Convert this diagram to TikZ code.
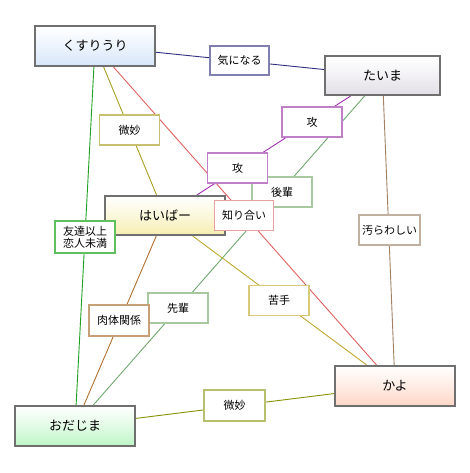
\documentclass[tikz,border=0pt]{standalone}
\usepackage{fontspec}
\newfontfamily\jp{Noto Sans CJK JP}
\usetikzlibrary{backgrounds}
\definecolor{mainborder}{HTML}{707070}
\definecolor{cblue}{HTML}{D6E6FA}
\definecolor{cgray}{HTML}{E2DEE6}
\definecolor{cyellow}{HTML}{F6EEB0}
\definecolor{cpeach}{HTML}{FFD6C6}
\definecolor{cgreen}{HTML}{BEF6C6}
\definecolor{lnavy}{HTML}{303080}\definecolor{bnavy}{HTML}{8080B0}
\definecolor{lpurple}{HTML}{A030B0}\definecolor{bpurple}{HTML}{C080C8}
\definecolor{lsage}{HTML}{70A870}\definecolor{bsage}{HTML}{A8C8A0}
\definecolor{lred}{HTML}{E06060}\definecolor{bred}{HTML}{E8A0A0}
\definecolor{lolive}{HTML}{A8A020}\definecolor{bolive}{HTML}{C8C070}
\definecolor{lolive2}{HTML}{889000}\definecolor{bolive2}{HTML}{B8C070}
\definecolor{lbrown}{HTML}{A08060}\definecolor{bbrown}{HTML}{C0B0A0}
\definecolor{lgold}{HTML}{C0A830}\definecolor{bgold}{HTML}{D8C878}
\definecolor{lrust}{HTML}{B07030}\definecolor{brust}{HTML}{C8A078}
\definecolor{lgreen}{HTML}{20A020}\definecolor{bgreen}{HTML}{60C060}
\tikzset{
  person/.style={draw=mainborder, line width=2pt, minimum width=120pt, minimum height=40pt,
    font=\jp\fontsize{13}{15}\selectfont, inner sep=0pt, top color=white, bottom color=#1,
    middle color=white!55!#1},
  tag/.style={draw=#1, line width=1.5pt, fill=white, minimum width=60pt, minimum height=30pt,
    font=\jp\fontsize{11}{13}\selectfont, inner sep=1pt, align=center},
  rel/.style={draw=#1, line width=0.9pt}
}
\begin{document}
\begin{tikzpicture}[x=1pt,y=-1pt]
\useasboundingbox (0,0) rectangle (470,473);
\node[person=cblue] (kusuri) at (95,46) {くすりうり};
\node[person=cgray, minimum width=115pt, minimum height=39pt] (taima) at (382.5,75.5) {たいま};
\node[person=cyellow, minimum height=39pt] (haiba) at (165,215.5) {はいばー};
\node[person=cpeach] (kayo) at (395,386) {かよ};
\node[person=cgreen] (oda) at (75,426) {おだじま};
\begin{pgfonlayer}{background}
\draw[rel=lnavy] (kusuri) -- (taima);
\draw[rel=lolive] (kusuri) -- (haiba);
\draw[rel=lred] (kusuri) -- (kayo);
\draw[rel=lgreen] (kusuri) -- (oda);
\draw[rel=lpurple] (taima) -- (haiba);
\draw[rel=lsage] (taima) -- (oda);
\draw[rel=lbrown] (taima) -- (kayo);
\draw[rel=lgold] (haiba) -- (kayo);
\draw[rel=lrust] (haiba) -- (oda);
\draw[rel=lolive2] (oda) -- (kayo);
\end{pgfonlayer}
\node[tag=bnavy, minimum width=59pt, minimum height=29pt] (kini) at (239.5,60.5) {気になる};
\node[tag=bolive] (bimyo1) at (129.5,130) {微妙};
\node[tag=bpurple] (seme1) at (312,122) {攻};
\node[tag=bsage] (kohai) at (282,192) {後輩};
\node[tag=bpurple] (seme2) at (237.5,168) {攻};
\node[tag=bred, minimum width=59pt] (shiri) at (244,215.5) {知り合い};
\node[tag=bgreen, minimum height=32pt, inner sep=0pt] (tomo) at (85,237) {\fontsize{11}{12}\selectfont 友達以上\\[-1pt]恋人未満};
\node[tag=bbrown, minimum width=61pt] (kegare) at (389.5,230) {汚らわしい};
\node[tag=bgold] (nigate) at (279,300.5) {苦手};
\node[tag=bsage] (senpai) at (178,308) {先輩};
\node[tag=brust, minimum height=31pt] (niku) at (119,320.5) {肉体関係};
\node[tag=bolive2, minimum width=61pt, minimum height=31pt] (bimyo2) at (234.5,405.5) {微妙};
\end{tikzpicture}
\end{document}
